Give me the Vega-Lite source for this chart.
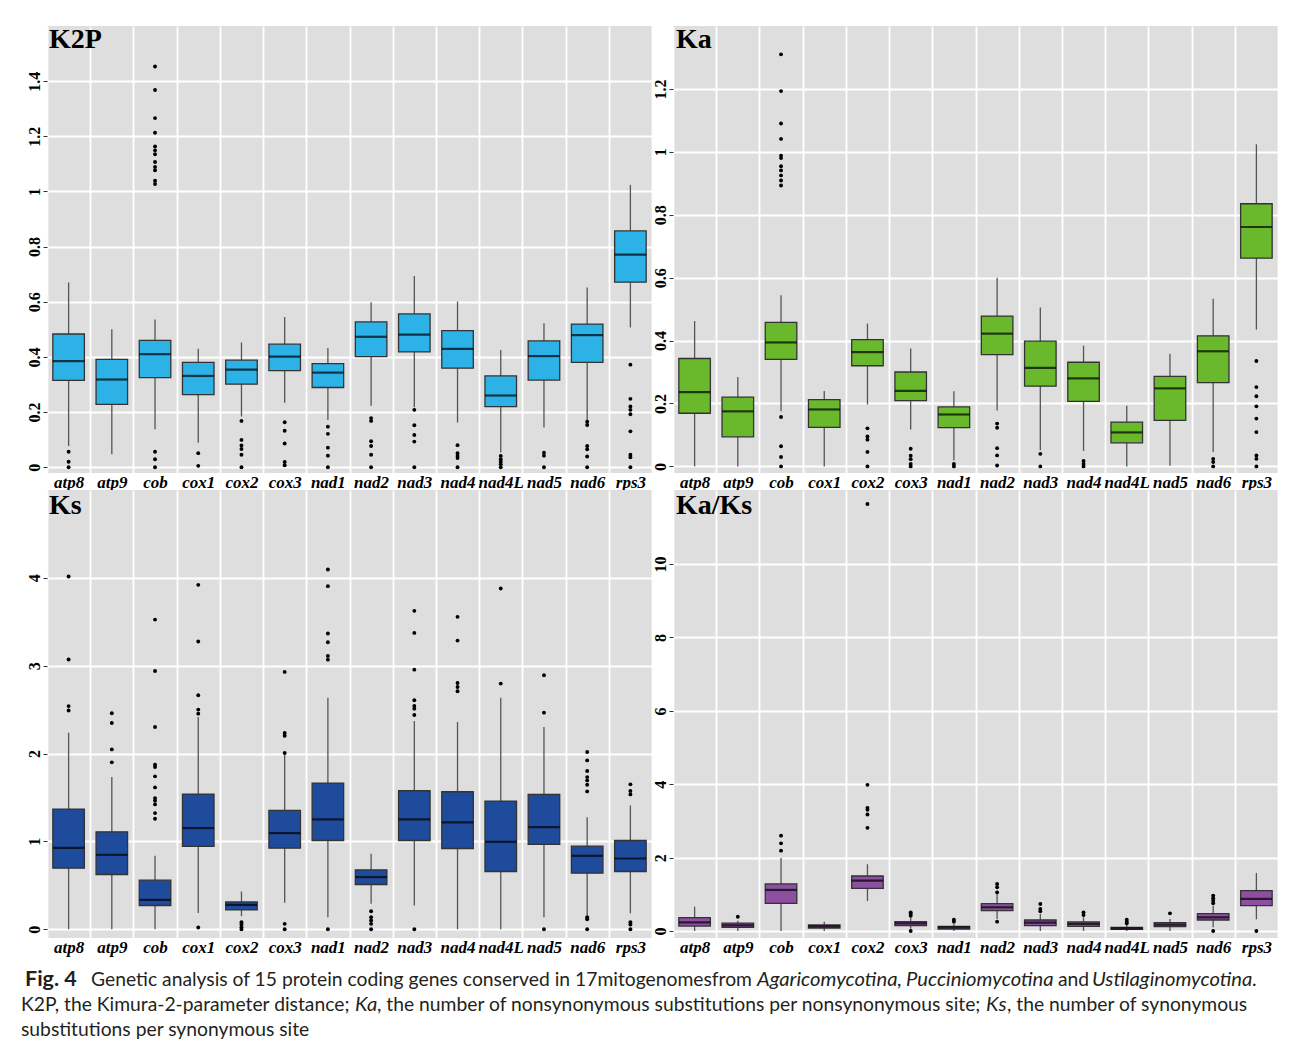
{
"$schema":"https://vega.github.io/schema/vega-lite/v6.json",
"background":"white",
"padding":{"left":21,"top":26,"right":5,"bottom":2},
"spacing":0,
"datasets":{
"titles":[{"p":"K2P","t":"K2P"},{"p":"Ka","t":"Ka"},{"p":"Ks","t":"Ks"},{"p":"KaKs","t":"Ka/Ks"}],
"boxes":[
{"p":"K2P","g":"atp8","lo":0.077,"q1":0.315,"med":0.385,"q3":0.483,"hi":0.67},
{"p":"K2P","g":"atp9","lo":0.047,"q1":0.228,"med":0.318,"q3":0.391,"hi":0.50},
{"p":"K2P","g":"cob","lo":0.138,"q1":0.325,"med":0.41,"q3":0.46,"hi":0.536},
{"p":"K2P","g":"cox1","lo":0.089,"q1":0.263,"med":0.331,"q3":0.38,"hi":0.43},
{"p":"K2P","g":"cox2","lo":0.184,"q1":0.301,"med":0.354,"q3":0.388,"hi":0.452},
{"p":"K2P","g":"cox3","lo":0.234,"q1":0.35,"med":0.401,"q3":0.446,"hi":0.545},
{"p":"K2P","g":"nad1","lo":0.171,"q1":0.289,"med":0.343,"q3":0.376,"hi":0.432},
{"p":"K2P","g":"nad2","lo":0.223,"q1":0.401,"med":0.473,"q3":0.527,"hi":0.598},
{"p":"K2P","g":"nad3","lo":0.217,"q1":0.418,"med":0.481,"q3":0.556,"hi":0.693},
{"p":"K2P","g":"nad4","lo":0.162,"q1":0.359,"med":0.429,"q3":0.495,"hi":0.601},
{"p":"K2P","g":"nad4L","lo":0.053,"q1":0.22,"med":0.26,"q3":0.331,"hi":0.425},
{"p":"K2P","g":"nad5","lo":0.144,"q1":0.316,"med":0.403,"q3":0.458,"hi":0.522},
{"p":"K2P","g":"nad6","lo":0.171,"q1":0.38,"med":0.479,"q3":0.519,"hi":0.652},
{"p":"K2P","g":"rps3","lo":0.507,"q1":0.671,"med":0.771,"q3":0.857,"hi":1.024},
{"p":"Ka","g":"atp8","lo":0,"q1":0.169,"med":0.236,"q3":0.343,"hi":0.462},
{"p":"Ka","g":"atp9","lo":0,"q1":0.094,"med":0.175,"q3":0.22,"hi":0.284},
{"p":"Ka","g":"cob","lo":0.175,"q1":0.34,"med":0.394,"q3":0.458,"hi":0.544},
{"p":"Ka","g":"cox1","lo":0,"q1":0.124,"med":0.181,"q3":0.212,"hi":0.24},
{"p":"Ka","g":"cox2","lo":0.197,"q1":0.32,"med":0.363,"q3":0.403,"hi":0.454},
{"p":"Ka","g":"cox3","lo":0.117,"q1":0.209,"med":0.24,"q3":0.3,"hi":0.375},
{"p":"Ka","g":"nad1","lo":0.019,"q1":0.123,"med":0.165,"q3":0.189,"hi":0.239},
{"p":"Ka","g":"nad2","lo":0.178,"q1":0.355,"med":0.422,"q3":0.478,"hi":0.6},
{"p":"Ka","g":"nad3","lo":0.051,"q1":0.255,"med":0.313,"q3":0.398,"hi":0.505},
{"p":"Ka","g":"nad4","lo":0.049,"q1":0.207,"med":0.28,"q3":0.331,"hi":0.384},
{"p":"Ka","g":"nad4L","lo":0,"q1":0.075,"med":0.108,"q3":0.141,"hi":0.193},
{"p":"Ka","g":"nad5","lo":0.002,"q1":0.146,"med":0.248,"q3":0.286,"hi":0.358},
{"p":"Ka","g":"nad6","lo":0.046,"q1":0.266,"med":0.366,"q3":0.415,"hi":0.533},
{"p":"Ka","g":"rps3","lo":0.435,"q1":0.662,"med":0.761,"q3":0.835,"hi":1.024},
{"p":"Ks","g":"atp8","lo":0,"q1":0.695,"med":0.927,"q3":1.368,"hi":2.237},
{"p":"Ks","g":"atp9","lo":0,"q1":0.623,"med":0.847,"q3":1.109,"hi":1.732},
{"p":"Ks","g":"cob","lo":0,"q1":0.27,"med":0.334,"q3":0.558,"hi":0.836},
{"p":"Ks","g":"cox1","lo":0.186,"q1":0.942,"med":1.151,"q3":1.538,"hi":2.416},
{"p":"Ks","g":"cox2","lo":0.148,"q1":0.22,"med":0.277,"q3":0.311,"hi":0.429},
{"p":"Ks","g":"cox3","lo":0.3,"q1":0.923,"med":1.094,"q3":1.352,"hi":1.99},
{"p":"Ks","g":"nad1","lo":0.137,"q1":1.01,"med":1.25,"q3":1.664,"hi":2.636},
{"p":"Ks","g":"nad2","lo":0.289,"q1":0.509,"med":0.593,"q3":0.676,"hi":0.858},
{"p":"Ks","g":"nad3","lo":0.27,"q1":1.01,"med":1.25,"q3":1.576,"hi":2.37},
{"p":"Ks","g":"nad4","lo":0,"q1":0.919,"med":1.216,"q3":1.565,"hi":2.359},
{"p":"Ks","g":"nad4L","lo":0,"q1":0.657,"med":0.995,"q3":1.459,"hi":2.636},
{"p":"Ks","g":"nad5","lo":0.137,"q1":0.965,"med":1.162,"q3":1.535,"hi":2.302},
{"p":"Ks","g":"nad6","lo":0.156,"q1":0.638,"med":0.836,"q3":0.946,"hi":1.276},
{"p":"Ks","g":"rps3","lo":0.182,"q1":0.657,"med":0.805,"q3":1.01,"hi":1.409},
{"p":"KaKs","g":"atp8","lo":0,"q1":0.136,"med":0.237,"q3":0.364,"hi":0.664},
{"p":"KaKs","g":"atp9","lo":0,"q1":0.1,"med":0.155,"q3":0.218,"hi":0.28},
{"p":"KaKs","g":"cob","lo":0,"q1":0.755,"med":1.12,"q3":1.283,"hi":1.993},
{"p":"KaKs","g":"cox1","lo":0,"q1":0.082,"med":0.127,"q3":0.164,"hi":0.255},
{"p":"KaKs","g":"cox2","lo":0.819,"q1":1.165,"med":1.374,"q3":1.5,"hi":1.82},
{"p":"KaKs","g":"cox3","lo":0.064,"q1":0.146,"med":0.209,"q3":0.255,"hi":0.373},
{"p":"KaKs","g":"nad1","lo":0,"q1":0.055,"med":0.1,"q3":0.127,"hi":0.2},
{"p":"KaKs","g":"nad2","lo":0.328,"q1":0.555,"med":0.646,"q3":0.746,"hi":1.10},
{"p":"KaKs","g":"nad3","lo":0,"q1":0.146,"med":0.227,"q3":0.3,"hi":0.464},
{"p":"KaKs","g":"nad4","lo":0,"q1":0.127,"med":0.191,"q3":0.246,"hi":0.373},
{"p":"KaKs","g":"nad4L","lo":0,"q1":0.045,"med":0.073,"q3":0.1,"hi":0.164},
{"p":"KaKs","g":"nad5","lo":0,"q1":0.118,"med":0.173,"q3":0.227,"hi":0.328},
{"p":"KaKs","g":"nad6","lo":0.1,"q1":0.3,"med":0.373,"q3":0.473,"hi":0.692},
{"p":"KaKs","g":"rps3","lo":0.318,"q1":0.692,"med":0.874,"q3":1.101,"hi":1.583}
],
"outliers":[
{"p":"K2P","g":"atp8","v":0.056},{"p":"K2P","g":"atp8","v":0.02},{"p":"K2P","g":"atp8","v":0},
{"p":"K2P","g":"cob","v":0.056},{"p":"K2P","g":"cob","v":0.029},{"p":"K2P","g":"cob","v":0},{"p":"K2P","g":"cob","v":1.453},{"p":"K2P","g":"cob","v":1.368},{"p":"K2P","g":"cob","v":1.266},{"p":"K2P","g":"cob","v":1.213},{"p":"K2P","g":"cob","v":1.163},{"p":"K2P","g":"cob","v":1.149},{"p":"K2P","g":"cob","v":1.135},{"p":"K2P","g":"cob","v":1.107},{"p":"K2P","g":"cob","v":1.089},{"p":"K2P","g":"cob","v":1.077},{"p":"K2P","g":"cob","v":1.039},{"p":"K2P","g":"cob","v":1.027},
{"p":"K2P","g":"cox1","v":0.051},{"p":"K2P","g":"cox1","v":0.005},
{"p":"K2P","g":"cox2","v":0.168},{"p":"K2P","g":"cox2","v":0.099},{"p":"K2P","g":"cox2","v":0.079},{"p":"K2P","g":"cox2","v":0.066},{"p":"K2P","g":"cox2","v":0.045},{"p":"K2P","g":"cox2","v":0},
{"p":"K2P","g":"cox3","v":0.163},{"p":"K2P","g":"cox3","v":0.132},{"p":"K2P","g":"cox3","v":0.086},{"p":"K2P","g":"cox3","v":0.019},{"p":"K2P","g":"cox3","v":0.007},
{"p":"K2P","g":"nad1","v":0.147},{"p":"K2P","g":"nad1","v":0.121},{"p":"K2P","g":"nad1","v":0.071},{"p":"K2P","g":"nad1","v":0.042},{"p":"K2P","g":"nad1","v":0},
{"p":"K2P","g":"nad2","v":0.178},{"p":"K2P","g":"nad2","v":0.168},{"p":"K2P","g":"nad2","v":0.094},{"p":"K2P","g":"nad2","v":0.077},{"p":"K2P","g":"nad2","v":0.045},{"p":"K2P","g":"nad2","v":0},
{"p":"K2P","g":"nad3","v":0.208},{"p":"K2P","g":"nad3","v":0.152},{"p":"K2P","g":"nad3","v":0.117},{"p":"K2P","g":"nad3","v":0.093},{"p":"K2P","g":"nad3","v":0},
{"p":"K2P","g":"nad4","v":0.08},{"p":"K2P","g":"nad4","v":0.051},{"p":"K2P","g":"nad4","v":0.041},{"p":"K2P","g":"nad4","v":0.033},{"p":"K2P","g":"nad4","v":0},
{"p":"K2P","g":"nad4L","v":0.041},{"p":"K2P","g":"nad4L","v":0.029},{"p":"K2P","g":"nad4L","v":0.02},{"p":"K2P","g":"nad4L","v":0.011},{"p":"K2P","g":"nad4L","v":0},
{"p":"K2P","g":"nad5","v":0.053},{"p":"K2P","g":"nad5","v":0.042},{"p":"K2P","g":"nad5","v":0},
{"p":"K2P","g":"nad6","v":0.165},{"p":"K2P","g":"nad6","v":0.153},{"p":"K2P","g":"nad6","v":0.077},{"p":"K2P","g":"nad6","v":0.065},{"p":"K2P","g":"nad6","v":0.039},{"p":"K2P","g":"nad6","v":0},
{"p":"K2P","g":"rps3","v":0.372},{"p":"K2P","g":"rps3","v":0.248},{"p":"K2P","g":"rps3","v":0.22},{"p":"K2P","g":"rps3","v":0.208},{"p":"K2P","g":"rps3","v":0.192},{"p":"K2P","g":"rps3","v":0.13},{"p":"K2P","g":"rps3","v":0.045},{"p":"K2P","g":"rps3","v":0.036},{"p":"K2P","g":"rps3","v":0},
{"p":"Ka","g":"cob","v":0.157},{"p":"Ka","g":"cob","v":0.064},{"p":"Ka","g":"cob","v":0.03},{"p":"Ka","g":"cob","v":0},{"p":"Ka","g":"cob","v":1.31},{"p":"Ka","g":"cob","v":1.193},{"p":"Ka","g":"cob","v":1.09},{"p":"Ka","g":"cob","v":1.041},{"p":"Ka","g":"cob","v":0.988},{"p":"Ka","g":"cob","v":0.98},{"p":"Ka","g":"cob","v":0.954},{"p":"Ka","g":"cob","v":0.941},{"p":"Ka","g":"cob","v":0.925},{"p":"Ka","g":"cob","v":0.909},{"p":"Ka","g":"cob","v":0.893},
{"p":"Ka","g":"cox2","v":0.121},{"p":"Ka","g":"cox2","v":0.095},{"p":"Ka","g":"cox2","v":0.085},{"p":"Ka","g":"cox2","v":0.046},{"p":"Ka","g":"cox2","v":0},
{"p":"Ka","g":"cox3","v":0.056},{"p":"Ka","g":"cox3","v":0.034},{"p":"Ka","g":"cox3","v":0.023},{"p":"Ka","g":"cox3","v":0.008},{"p":"Ka","g":"cox3","v":0},
{"p":"Ka","g":"nad1","v":0.008},{"p":"Ka","g":"nad1","v":0},
{"p":"Ka","g":"nad2","v":0.136},{"p":"Ka","g":"nad2","v":0.123},{"p":"Ka","g":"nad2","v":0.058},{"p":"Ka","g":"nad2","v":0.035},{"p":"Ka","g":"nad2","v":0.003},
{"p":"Ka","g":"nad3","v":0.04},{"p":"Ka","g":"nad3","v":0},
{"p":"Ka","g":"nad4","v":0.017},{"p":"Ka","g":"nad4","v":0.008},{"p":"Ka","g":"nad4","v":0},
{"p":"Ka","g":"nad6","v":0.024},{"p":"Ka","g":"nad6","v":0.014},{"p":"Ka","g":"nad6","v":0},
{"p":"Ka","g":"rps3","v":0.335},{"p":"Ka","g":"rps3","v":0.252},{"p":"Ka","g":"rps3","v":0.223},{"p":"Ka","g":"rps3","v":0.191},{"p":"Ka","g":"rps3","v":0.152},{"p":"Ka","g":"rps3","v":0.109},{"p":"Ka","g":"rps3","v":0.035},{"p":"Ka","g":"rps3","v":0.024},{"p":"Ka","g":"rps3","v":0},
{"p":"Ks","g":"atp8","v":4.015},{"p":"Ks","g":"atp8","v":3.07},{"p":"Ks","g":"atp8","v":2.54},{"p":"Ks","g":"atp8","v":2.49},
{"p":"Ks","g":"atp9","v":2.458},{"p":"Ks","g":"atp9","v":2.348},{"p":"Ks","g":"atp9","v":2.047},{"p":"Ks","g":"atp9","v":1.9},
{"p":"Ks","g":"cob","v":3.525},{"p":"Ks","g":"cob","v":2.94},{"p":"Ks","g":"cob","v":2.302},{"p":"Ks","g":"cob","v":1.873},{"p":"Ks","g":"cob","v":1.846},{"p":"Ks","g":"cob","v":1.74},{"p":"Ks","g":"cob","v":1.614},{"p":"Ks","g":"cob","v":1.493},{"p":"Ks","g":"cob","v":1.462},{"p":"Ks","g":"cob","v":1.421},{"p":"Ks","g":"cob","v":1.322},{"p":"Ks","g":"cob","v":1.257},
{"p":"Ks","g":"cox1","v":3.92},{"p":"Ks","g":"cox1","v":3.275},{"p":"Ks","g":"cox1","v":2.663},{"p":"Ks","g":"cox1","v":2.5},{"p":"Ks","g":"cox1","v":2.454},{"p":"Ks","g":"cox1","v":0.019},
{"p":"Ks","g":"cox2","v":0.08},{"p":"Ks","g":"cox2","v":0.053},{"p":"Ks","g":"cox2","v":0.023},{"p":"Ks","g":"cox2","v":0},
{"p":"Ks","g":"cox3","v":2.929},{"p":"Ks","g":"cox3","v":2.234},{"p":"Ks","g":"cox3","v":2.203},{"p":"Ks","g":"cox3","v":2.006},{"p":"Ks","g":"cox3","v":0.061},{"p":"Ks","g":"cox3","v":0},
{"p":"Ks","g":"nad1","v":4.095},{"p":"Ks","g":"nad1","v":3.905},{"p":"Ks","g":"nad1","v":3.366},{"p":"Ks","g":"nad1","v":3.267},{"p":"Ks","g":"nad1","v":3.111},{"p":"Ks","g":"nad1","v":3.069},{"p":"Ks","g":"nad1","v":0},
{"p":"Ks","g":"nad2","v":0.205},{"p":"Ks","g":"nad2","v":0.137},{"p":"Ks","g":"nad2","v":0.099},{"p":"Ks","g":"nad2","v":0.061},{"p":"Ks","g":"nad2","v":0},
{"p":"Ks","g":"nad3","v":3.624},{"p":"Ks","g":"nad3","v":3.373},{"p":"Ks","g":"nad3","v":2.955},{"p":"Ks","g":"nad3","v":2.606},{"p":"Ks","g":"nad3","v":2.541},{"p":"Ks","g":"nad3","v":2.511},{"p":"Ks","g":"nad3","v":2.439},{"p":"Ks","g":"nad3","v":0},
{"p":"Ks","g":"nad4","v":3.556},{"p":"Ks","g":"nad4","v":3.286},{"p":"Ks","g":"nad4","v":2.803},{"p":"Ks","g":"nad4","v":2.758},{"p":"Ks","g":"nad4","v":2.709},
{"p":"Ks","g":"nad4L","v":3.878},{"p":"Ks","g":"nad4L","v":2.796},
{"p":"Ks","g":"nad5","v":2.891},{"p":"Ks","g":"nad5","v":2.465},{"p":"Ks","g":"nad5","v":0},
{"p":"Ks","g":"nad6","v":2.017},{"p":"Ks","g":"nad6","v":1.922},{"p":"Ks","g":"nad6","v":1.801},{"p":"Ks","g":"nad6","v":1.732},{"p":"Ks","g":"nad6","v":1.694},{"p":"Ks","g":"nad6","v":1.645},{"p":"Ks","g":"nad6","v":1.569},{"p":"Ks","g":"nad6","v":0.137},{"p":"Ks","g":"nad6","v":0.114},{"p":"Ks","g":"nad6","v":0},
{"p":"Ks","g":"rps3","v":1.649},{"p":"Ks","g":"rps3","v":1.573},{"p":"Ks","g":"rps3","v":1.535},{"p":"Ks","g":"rps3","v":0.08},{"p":"Ks","g":"rps3","v":0.053},{"p":"Ks","g":"rps3","v":0},
{"p":"KaKs","g":"atp9","v":0.39},
{"p":"KaKs","g":"cob","v":2.6},{"p":"KaKs","g":"cob","v":2.39},{"p":"KaKs","g":"cob","v":2.19},
{"p":"KaKs","g":"cox2","v":11.64},{"p":"KaKs","g":"cox2","v":3.985},{"p":"KaKs","g":"cox2","v":3.358},{"p":"KaKs","g":"cox2","v":3.303},{"p":"KaKs","g":"cox2","v":3.176},{"p":"KaKs","g":"cox2","v":2.812},
{"p":"KaKs","g":"cox3","v":0.51},{"p":"KaKs","g":"cox3","v":0.464},{"p":"KaKs","g":"cox3","v":0.419},{"p":"KaKs","g":"cox3","v":0},
{"p":"KaKs","g":"nad1","v":0.31},{"p":"KaKs","g":"nad1","v":0.255},
{"p":"KaKs","g":"nad2","v":1.283},{"p":"KaKs","g":"nad2","v":1.192},{"p":"KaKs","g":"nad2","v":1.055},{"p":"KaKs","g":"nad2","v":0.255},
{"p":"KaKs","g":"nad3","v":0.737},{"p":"KaKs","g":"nad3","v":0.6},{"p":"KaKs","g":"nad3","v":0.537},
{"p":"KaKs","g":"nad4","v":0.51},{"p":"KaKs","g":"nad4","v":0.437},
{"p":"KaKs","g":"nad4L","v":0.31},{"p":"KaKs","g":"nad4L","v":0.255},{"p":"KaKs","g":"nad4L","v":0.209},
{"p":"KaKs","g":"nad5","v":0.482},
{"p":"KaKs","g":"nad6","v":0.965},{"p":"KaKs","g":"nad6","v":0.892},{"p":"KaKs","g":"nad6","v":0.828},{"p":"KaKs","g":"nad6","v":0.755},{"p":"KaKs","g":"nad6","v":0},
{"p":"KaKs","g":"rps3","v":0}
],
"caption":[
{"line":1,"s":"fig","t":"Fig. 4"},
{"line":1,"s":"a1","t":"Genetic analysis of 15 protein coding genes conserved in 17mitogenomesfrom"},
{"line":1,"s":"a2","t":"Agaricomycotina,"},
{"line":1,"s":"a3","t":"Pucciniomycotina"},
{"line":1,"s":"a4","t":"and"},
{"line":1,"s":"a5","t":"Ustilaginomycotina."},
{"line":2,"s":"b1","t":"K2P, the Kimura-2-parameter distance;"},
{"line":2,"s":"b2","t":"Ka"},
{"line":2,"s":"b3","t":", the number of nonsynonymous substitutions per nonsynonymous site;"},
{"line":2,"s":"b4","t":"Ks"},
{"line":2,"s":"b5","t":", the number of synonymous"},
{"line":3,"s":"b1","t":"substitutions per synonymous site"}
]
},
"vconcat":[
{"spacing":0,"hconcat":[
{"width":605,"height":447,
"encoding":{"x":{"field":"g","type":"nominal","title":null,"scale":{"domain":["atp8","atp9","cob","cox1","cox2","cox3","nad1","nad2","nad3","nad4","nad4L","nad5","nad6","rps3"],"paddingInner":0,"paddingOuter":0},"axis":{"labelFont":"Liberation Serif","labelFontStyle":"italic","labelFontWeight":"bold","labelFontSize":17,"labelColor":"#000","labelPadding":1,"labelAngle":0,"labelBaseline":"top","labelOverlap":false,"ticks":false,"domain":false,"grid":true,"gridColor":"#ffffff","gridWidth":1.8,"tickBand":"extent"}}},
"layer":[
{"data":{"name":"boxes"},"transform":[{"filter":"datum.p==='K2P'"}],"mark":{"type":"rule","color":"#555555","strokeWidth":1.3},"encoding":{"y":{"field":"lo","type":"quantitative","title":null,"scale":{"domain":[-0.021,1.6],"nice":false,"zero":false},"axis":{"values":[0,0.2,0.4,0.6,0.8,1,1.2,1.4],"format":".1~f","labelAngle":-90,"labelAlign":"center","labelBaseline":"bottom","labelFont":"Liberation Serif","labelFontSize":16,"labelFontWeight":"bold","labelColor":"#000","labelPadding":1,"labelOverlap":false,"labelFlush":false,"tickSize":4,"tickColor":"#333333","domain":false,"grid":true,"gridColor":"#ffffff","gridWidth":1.8}},"y2":{"field":"hi"}}},
{"data":{"name":"boxes"},"transform":[{"filter":"datum.p==='K2P'"}],"mark":{"type":"bar","width":{"band":0.73},"fill":"#2DB2E8","stroke":"#333333","strokeWidth":1.3},"encoding":{"y":{"field":"q1","type":"quantitative"},"y2":{"field":"q3"}}},
{"data":{"name":"boxes"},"transform":[{"filter":"datum.p==='K2P'"}],"mark":{"type":"tick","size":31.5,"thickness":2.2,"color":"#000"},"encoding":{"y":{"field":"med","type":"quantitative"}}},
{"data":{"name":"outliers"},"transform":[{"filter":"datum.p==='K2P'"}],"mark":{"type":"circle","size":15,"color":"#000","opacity":1},"encoding":{"y":{"field":"v","type":"quantitative"}}},
{"data":{"name":"titles"},"transform":[{"filter":"datum.p==='K2P'"}],"mark":{"type":"text","align":"left","baseline":"alphabetic","font":"Liberation Serif","fontSize":28,"fontWeight":"bold","color":"#000","dx":2,"dy":22},"encoding":{"x":{"datum":"atp8","bandPosition":0},"y":{"datum":1.6,"type":"quantitative"},"text":{"field":"t"}}}
]},
{"width":605,"height":447,
"encoding":{"x":{"field":"g","type":"nominal","title":null,"scale":{"domain":["atp8","atp9","cob","cox1","cox2","cox3","nad1","nad2","nad3","nad4","nad4L","nad5","nad6","rps3"],"paddingInner":0,"paddingOuter":0},"axis":{"labelFont":"Liberation Serif","labelFontStyle":"italic","labelFontWeight":"bold","labelFontSize":17,"labelColor":"#000","labelPadding":1,"labelAngle":0,"labelBaseline":"top","labelOverlap":false,"ticks":false,"domain":false,"grid":true,"gridColor":"#ffffff","gridWidth":1.8,"tickBand":"extent"}}},
"layer":[
{"data":{"name":"boxes"},"transform":[{"filter":"datum.p==='Ka'"}],"mark":{"type":"rule","color":"#555555","strokeWidth":1.3},"encoding":{"y":{"field":"lo","type":"quantitative","title":null,"scale":{"domain":[-0.021,1.4],"nice":false,"zero":false},"axis":{"values":[0,0.2,0.4,0.6,0.8,1,1.2],"format":".1~f","labelAngle":-90,"labelAlign":"center","labelBaseline":"bottom","labelFont":"Liberation Serif","labelFontSize":16,"labelFontWeight":"bold","labelColor":"#000","labelPadding":1,"labelOverlap":false,"labelFlush":false,"tickSize":4,"tickColor":"#333333","domain":false,"grid":true,"gridColor":"#ffffff","gridWidth":1.8}},"y2":{"field":"hi"}}},
{"data":{"name":"boxes"},"transform":[{"filter":"datum.p==='Ka'"}],"mark":{"type":"bar","width":{"band":0.73},"fill":"#6AB92D","stroke":"#333333","strokeWidth":1.3},"encoding":{"y":{"field":"q1","type":"quantitative"},"y2":{"field":"q3"}}},
{"data":{"name":"boxes"},"transform":[{"filter":"datum.p==='Ka'"}],"mark":{"type":"tick","size":31.5,"thickness":2.2,"color":"#000"},"encoding":{"y":{"field":"med","type":"quantitative"}}},
{"data":{"name":"outliers"},"transform":[{"filter":"datum.p==='Ka'"}],"mark":{"type":"circle","size":15,"color":"#000","opacity":1},"encoding":{"y":{"field":"v","type":"quantitative"}}},
{"data":{"name":"titles"},"transform":[{"filter":"datum.p==='Ka'"}],"mark":{"type":"text","align":"left","baseline":"alphabetic","font":"Liberation Serif","fontSize":28,"fontWeight":"bold","color":"#000","dx":3,"dy":22},"encoding":{"x":{"datum":"atp8","bandPosition":0},"y":{"datum":1.4,"type":"quantitative"},"text":{"field":"t"}}}
]}
]},
{"spacing":0,"hconcat":[
{"width":605,"height":448,
"encoding":{"x":{"field":"g","type":"nominal","title":null,"scale":{"domain":["atp8","atp9","cob","cox1","cox2","cox3","nad1","nad2","nad3","nad4","nad4L","nad5","nad6","rps3"],"paddingInner":0,"paddingOuter":0},"axis":{"labelFont":"Liberation Serif","labelFontStyle":"italic","labelFontWeight":"bold","labelFontSize":17,"labelColor":"#000","labelPadding":1,"labelAngle":0,"labelBaseline":"top","labelOverlap":false,"ticks":false,"domain":false,"grid":true,"gridColor":"#ffffff","gridWidth":1.8,"tickBand":"extent"}}},
"layer":[
{"data":{"name":"boxes"},"transform":[{"filter":"datum.p==='Ks'"}],"mark":{"type":"rule","color":"#555555","strokeWidth":1.3},"encoding":{"y":{"field":"lo","type":"quantitative","title":null,"scale":{"domain":[-0.1,5.0],"nice":false,"zero":false},"axis":{"values":[0,1,2,3,4],"format":".1~f","labelAngle":-90,"labelAlign":"center","labelBaseline":"bottom","labelFont":"Liberation Serif","labelFontSize":16,"labelFontWeight":"bold","labelColor":"#000","labelPadding":1,"labelOverlap":false,"labelFlush":false,"tickSize":4,"tickColor":"#333333","domain":false,"grid":true,"gridColor":"#ffffff","gridWidth":1.8}},"y2":{"field":"hi"}}},
{"data":{"name":"boxes"},"transform":[{"filter":"datum.p==='Ks'"}],"mark":{"type":"bar","width":{"band":0.73},"fill":"#1F4B9D","stroke":"#333333","strokeWidth":1.3},"encoding":{"y":{"field":"q1","type":"quantitative"},"y2":{"field":"q3"}}},
{"data":{"name":"boxes"},"transform":[{"filter":"datum.p==='Ks'"}],"mark":{"type":"tick","size":31.5,"thickness":2.2,"color":"#000"},"encoding":{"y":{"field":"med","type":"quantitative"}}},
{"data":{"name":"outliers"},"transform":[{"filter":"datum.p==='Ks'"}],"mark":{"type":"circle","size":15,"color":"#000","opacity":1},"encoding":{"y":{"field":"v","type":"quantitative"}}},
{"data":{"name":"titles"},"transform":[{"filter":"datum.p==='Ks'"}],"mark":{"type":"text","align":"left","baseline":"alphabetic","font":"Liberation Serif","fontSize":28,"fontWeight":"bold","color":"#000","dx":2,"dy":24},"encoding":{"x":{"datum":"atp8","bandPosition":0},"y":{"datum":5.0,"type":"quantitative"},"text":{"field":"t"}}}
]},
{"width":605,"height":448,
"encoding":{"x":{"field":"g","type":"nominal","title":null,"scale":{"domain":["atp8","atp9","cob","cox1","cox2","cox3","nad1","nad2","nad3","nad4","nad4L","nad5","nad6","rps3"],"paddingInner":0,"paddingOuter":0},"axis":{"labelFont":"Liberation Serif","labelFontStyle":"italic","labelFontWeight":"bold","labelFontSize":17,"labelColor":"#000","labelPadding":1,"labelAngle":0,"labelBaseline":"top","labelOverlap":false,"ticks":false,"domain":false,"grid":true,"gridColor":"#ffffff","gridWidth":1.8,"tickBand":"extent"}}},
"layer":[
{"data":{"name":"boxes"},"transform":[{"filter":"datum.p==='KaKs'"}],"mark":{"type":"rule","color":"#555555","strokeWidth":1.3},"encoding":{"y":{"field":"lo","type":"quantitative","title":null,"scale":{"domain":[-0.19,12.02],"nice":false,"zero":false},"axis":{"values":[0,2,4,6,8,10],"format":".1~f","labelAngle":-90,"labelAlign":"center","labelBaseline":"bottom","labelFont":"Liberation Serif","labelFontSize":16,"labelFontWeight":"bold","labelColor":"#000","labelPadding":1,"labelOverlap":false,"labelFlush":false,"tickSize":4,"tickColor":"#333333","domain":false,"grid":true,"gridColor":"#ffffff","gridWidth":1.8}},"y2":{"field":"hi"}}},
{"data":{"name":"boxes"},"transform":[{"filter":"datum.p==='KaKs'"}],"mark":{"type":"bar","width":{"band":0.73},"fill":"#8D4FA2","stroke":"#333333","strokeWidth":1.3},"encoding":{"y":{"field":"q1","type":"quantitative"},"y2":{"field":"q3"}}},
{"data":{"name":"boxes"},"transform":[{"filter":"datum.p==='KaKs'"}],"mark":{"type":"tick","size":31.5,"thickness":2.2,"color":"#000"},"encoding":{"y":{"field":"med","type":"quantitative"}}},
{"data":{"name":"outliers"},"transform":[{"filter":"datum.p==='KaKs'"}],"mark":{"type":"circle","size":15,"color":"#000","opacity":1},"encoding":{"y":{"field":"v","type":"quantitative"}}},
{"data":{"name":"titles"},"transform":[{"filter":"datum.p==='KaKs'"}],"mark":{"type":"text","align":"left","baseline":"alphabetic","font":"Liberation Serif","fontSize":28,"fontWeight":"bold","color":"#000","dx":3,"dy":24},"encoding":{"x":{"datum":"atp8","bandPosition":0},"y":{"datum":12.02,"type":"quantitative"},"text":{"field":"t"}}}
]}
]},
{"width":1268,"height":85,
"view":{"fill":null,"stroke":null},
"data":{"name":"caption"},
"encoding":{
"x":{"datum":0,"type":"quantitative","scale":{"domain":[0,1]},"axis":null},
"y":{"field":"line","type":"ordinal","scale":{"type":"point","range":[31,81],"padding":0},"axis":null},
"text":{"field":"t"}},
"layer":[
{"transform":[{"filter":"datum.s==='fig'"}],"mark":{"type":"text","align":"left","baseline":"alphabetic","font":"Lato","fontSize":21.5,"fontWeight":"bold","color":"#231f20","dx":-22}},
{"transform":[{"filter":"datum.s==='a1'"}],"mark":{"type":"text","align":"left","baseline":"alphabetic","font":"Lato","fontSize":19.3,"color":"#231f20","dx":44}},
{"transform":[{"filter":"datum.s==='a2'"}],"mark":{"type":"text","align":"left","baseline":"alphabetic","font":"Lato","fontSize":20.2,"fontStyle":"italic","color":"#231f20","dx":710}},
{"transform":[{"filter":"datum.s==='a3'"}],"mark":{"type":"text","align":"left","baseline":"alphabetic","font":"Lato","fontSize":20.2,"fontStyle":"italic","color":"#231f20","dx":859}},
{"transform":[{"filter":"datum.s==='a4'"}],"mark":{"type":"text","align":"left","baseline":"alphabetic","font":"Lato","fontSize":19.3,"color":"#231f20","dx":1011}},
{"transform":[{"filter":"datum.s==='a5'"}],"mark":{"type":"text","align":"left","baseline":"alphabetic","font":"Lato","fontSize":20.2,"fontStyle":"italic","color":"#231f20","dx":1045}},
{"transform":[{"filter":"datum.s==='b1'"}],"mark":{"type":"text","align":"left","baseline":"alphabetic","font":"Lato","fontSize":19.3,"color":"#231f20","dx":-26}},
{"transform":[{"filter":"datum.s==='b2'"}],"mark":{"type":"text","align":"left","baseline":"alphabetic","font":"Lato","fontSize":20.2,"fontStyle":"italic","color":"#231f20","dx":308}},
{"transform":[{"filter":"datum.s==='b3'"}],"mark":{"type":"text","align":"left","baseline":"alphabetic","font":"Lato","fontSize":19.3,"color":"#231f20","dx":330}},
{"transform":[{"filter":"datum.s==='b4'"}],"mark":{"type":"text","align":"left","baseline":"alphabetic","font":"Lato","fontSize":20.2,"fontStyle":"italic","color":"#231f20","dx":939}},
{"transform":[{"filter":"datum.s==='b5'"}],"mark":{"type":"text","align":"left","baseline":"alphabetic","font":"Lato","fontSize":19.3,"color":"#231f20","dx":960}}
]}
],
"config":{"view":{"fill":"#DEDEDE","stroke":null}}
}
